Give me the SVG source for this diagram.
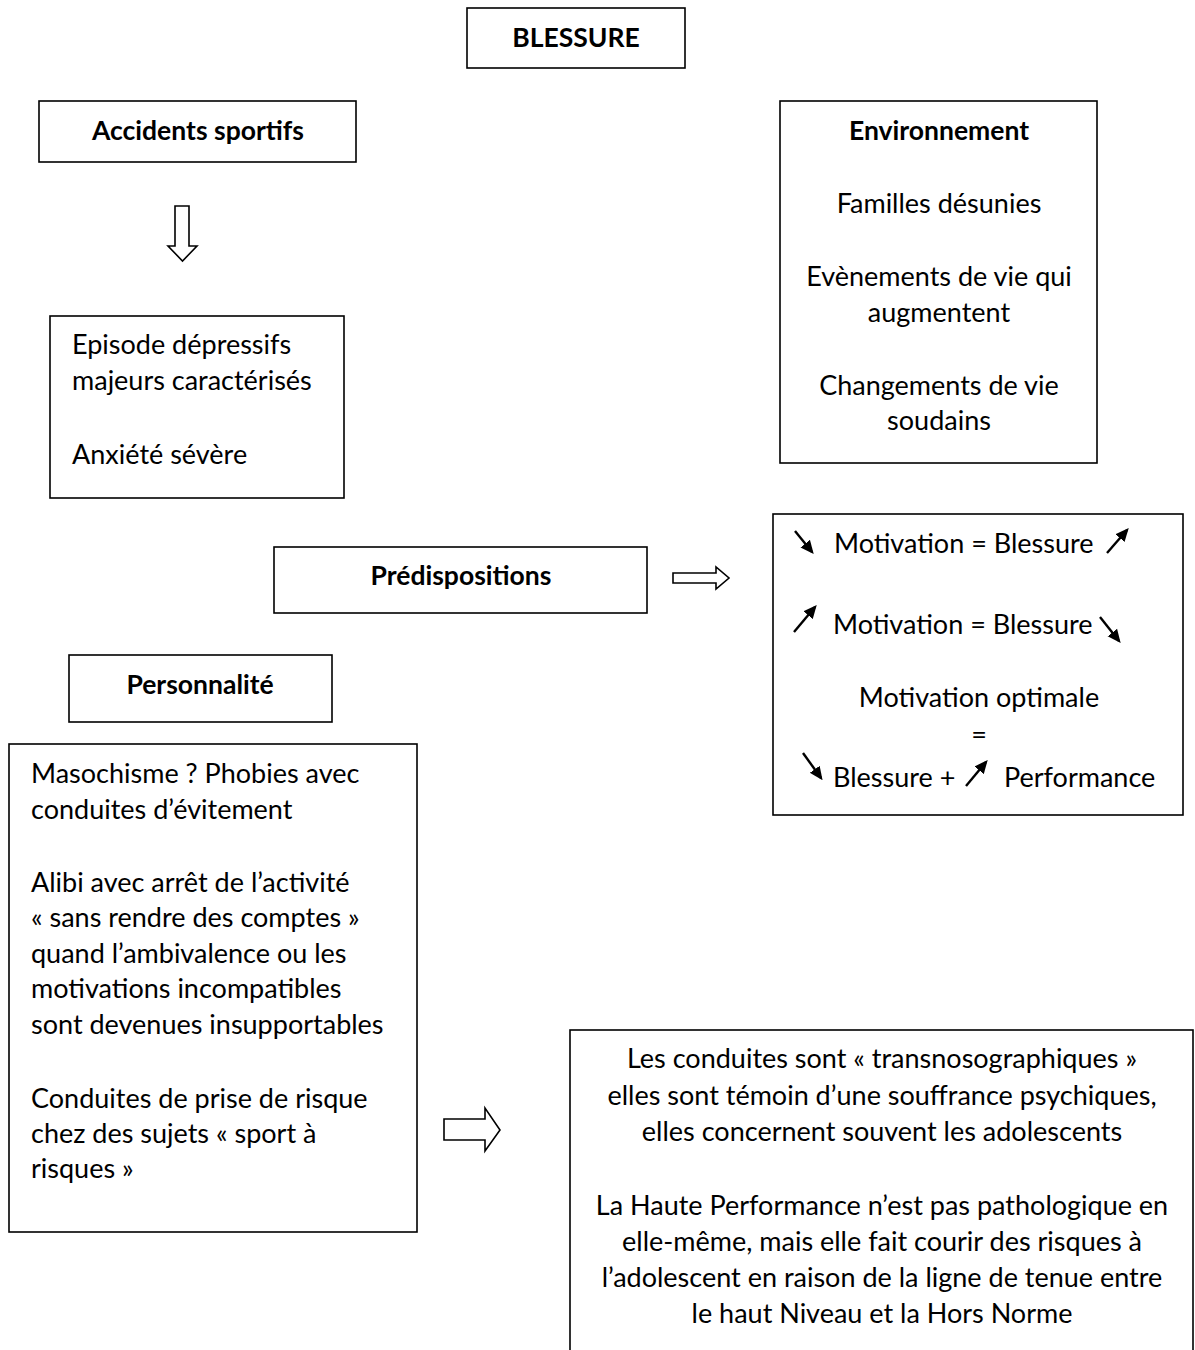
<svg xmlns="http://www.w3.org/2000/svg" width="1195" height="1350" viewBox="0 0 1195 1350">
<style>
.box{fill:#fff;stroke:#000;stroke-width:1.6}
.t{font-family:Lato,"Open Sans","Liberation Sans",sans-serif;font-size:27px;fill:#000}
.b{font-weight:bold;font-size:26.5px}
.c{text-anchor:middle}
.blk{fill:#fff;stroke:#000;stroke-width:1.6;stroke-linejoin:miter}
.sa{stroke:#000;stroke-width:2.4;fill:none;marker-end:url(#ah)}
</style>
<defs>
<marker id="ah" viewBox="0 0 10 10" refX="8" refY="5" markerWidth="5.6" markerHeight="5.6" orient="auto" markerUnits="strokeWidth">
<path d="M0,0.5 L10,5 L0,9.5 z" fill="#000"/>
</marker>
</defs>
<rect width="1195" height="1350" fill="#fff"/>

<g id="blessure">
<rect class="box" x="467" y="8" width="218" height="60"/>
<text class="t b c" x="576" y="47">BLESSURE</text>
</g>

<g id="accidents">
<rect class="box" x="39" y="101" width="317" height="61"/>
<text class="t b c" x="198" y="140">Accidents sportifs</text>
</g>

<g id="environnement">
<rect class="box" x="780" y="101" width="317" height="362"/>
<text class="t b c" x="939" y="140">Environnement</text>
<text class="t c" x="939" y="213">Familles désunies</text>
<text class="t c" x="939" y="286">Evènements de vie qui</text>
<text class="t c" x="939" y="322">augmentent</text>
<text class="t c" x="939" y="395">Changements de vie</text>
<text class="t c" x="939" y="430">soudains</text>
</g>

<g id="episode">
<rect class="box" x="50" y="316" width="294" height="182"/>
<text class="t" x="72" y="354">Episode dépressifs</text>
<text class="t" x="72" y="390">majeurs caractérisés</text>
<text class="t" x="72" y="464">Anxiété sévère</text>
</g>

<g id="predispositions">
<rect class="box" x="274" y="547" width="373" height="66"/>
<text class="t b c" x="461" y="585">Prédispositions</text>
</g>

<g id="motivation">
<rect class="box" x="773" y="514" width="410" height="301"/>
<text class="t" x="834" y="553">Motivation = Blessure</text>
<text class="t" x="833" y="634">Motivation = Blessure</text>
<text class="t c" x="979" y="707">Motivation optimale</text>
<text class="t c" x="979" y="744">=</text>
<text class="t" x="833" y="787">Blessure +</text>
<text class="t" x="1004" y="787">Performance</text>
<line class="sa" x1="795" y1="531" x2="812" y2="552"/>
<line class="sa" x1="1107" y1="553" x2="1127" y2="530"/>
<line class="sa" x1="794" y1="632" x2="815" y2="607"/>
<line class="sa" x1="1100" y1="617" x2="1119" y2="641"/>
<line class="sa" x1="803" y1="753" x2="821" y2="778"/>
<line class="sa" x1="966" y1="786" x2="986" y2="762"/>
</g>

<g id="personnalite">
<rect class="box" x="69" y="655" width="263" height="67"/>
<text class="t b c" x="200" y="694">Personnalité</text>
</g>

<g id="masochisme">
<rect class="box" x="9" y="744" width="408" height="488"/>
<text class="t" x="31" y="783">Masochisme ? Phobies avec</text>
<text class="t" x="31" y="819">conduites d’évitement</text>
<text class="t" x="31" y="892">Alibi avec arrêt de l’activité</text>
<text class="t" x="31" y="927">« sans rendre des comptes »</text>
<text class="t" x="31" y="963">quand l’ambivalence ou les</text>
<text class="t" x="31" y="998">motivations incompatibles</text>
<text class="t" x="31" y="1034">sont devenues insupportables</text>
<text class="t" x="31" y="1108">Conduites de prise de risque</text>
<text class="t" x="31" y="1143">chez des sujets « sport à</text>
<text class="t" x="31" y="1178">risques »</text>
</g>

<g id="conduites">
<rect class="box" x="570" y="1030" width="623" height="340"/>
<text class="t c" x="882" y="1068">Les conduites sont « transnosographiques »</text>
<text class="t c" x="882" y="1105">elles sont témoin d’une souffrance psychiques,</text>
<text class="t c" x="882" y="1141">elles concernent souvent les adolescents</text>
<text class="t c" x="882" y="1215">La Haute Performance n’est pas pathologique en</text>
<text class="t c" x="882" y="1251">elle-même, mais elle fait courir des risques à</text>
<text class="t c" x="882" y="1287">l’adolescent en raison de la ligne de tenue entre</text>
<text class="t c" x="882" y="1323">le haut Niveau et la Hors Norme</text>
</g>

<g id="connectors">
<polygon class="blk" points="175,206 189,206 189,246 197,246 182.5,261 168,246 175,246"/>
<polygon class="blk" points="673,573 716,573 716,567 729,578 716,589 716,583 673,583"/>
<polygon class="blk" points="444,1119 485,1119 485,1108 500,1130 485,1151 485,1140 444,1140"/>
</g>
</svg>
